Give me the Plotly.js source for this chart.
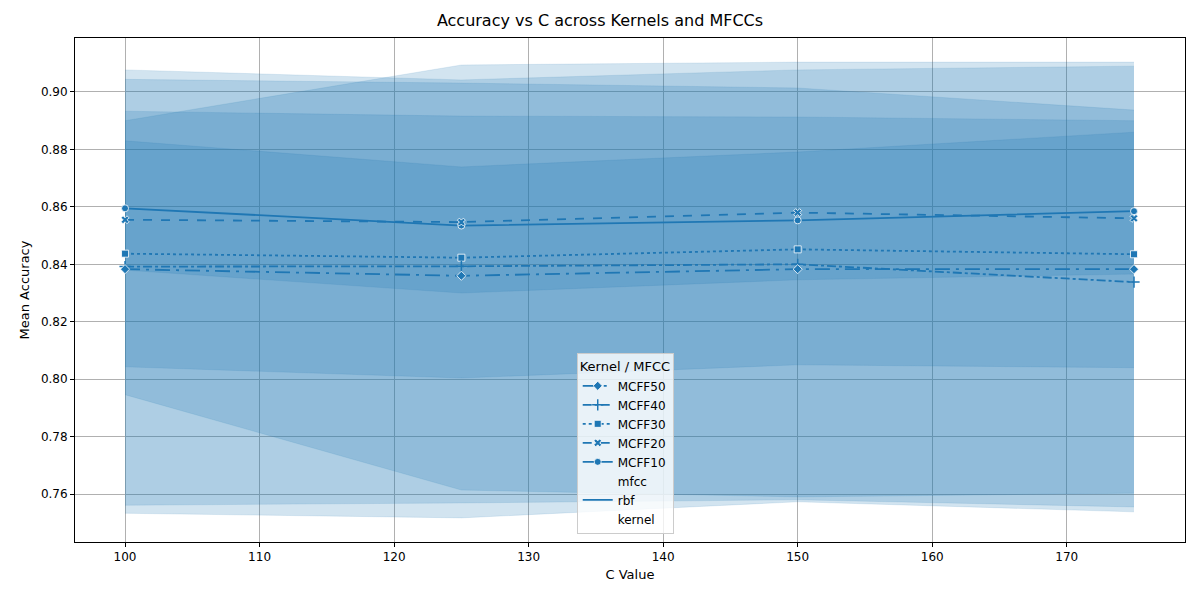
<!DOCTYPE html>
<html>
<head>
<script src="https://cdn.plot.ly/plotly-3.0.1.min.js"></script>
</head>
<body style="margin:0">
<div id="chart" style="width:1200px;height:600px"></div>
<script>
const cValues = [100, 125, 150, 175];
const mfccNames = ['MCFF10', 'MCFF20', 'MCFF30', 'MCFF40', 'MCFF50'];
const meanAcc = [
  [0.8595, 0.8535, 0.8553, 0.8585],
  [0.8555, 0.8547, 0.8580, 0.8560],
  [0.8437, 0.8423, 0.8452, 0.8435],
  [0.8392, 0.8393, 0.8400, 0.8338],
  [0.8383, 0.8360, 0.8383, 0.8383],
];
const upperCI = [
  [0.9077, 0.9042, 0.9077, 0.9090],
  [0.8900, 0.9094, 0.9104, 0.9104],
  [0.9044, 0.9031, 0.9014, 0.8937],
  [0.8933, 0.8916, 0.8913, 0.8900],
  [0.8830, 0.8739, 0.8791, 0.8860],
];
const lowerCI = [
  [0.7533, 0.7517, 0.7573, 0.7538],
  [0.7946, 0.7614, 0.7590, 0.7603],
  [0.7561, 0.7569, 0.7580, 0.7555],
  [0.8043, 0.8004, 0.8050, 0.8040],
  [0.8380, 0.8300, 0.8346, 0.8366],
];
const dashes = ['solid', 'dash', 'dot', 'dashdot', 'longdashdot'];
const symbols = ['circle', 'x', 'square', 'cross-thin', 'diamond'];

const blue = '#1f77b4';
const band = 'rgba(31,119,180,0.2)';
const traces = [];

// confidence bands
for (let i = 0; i < mfccNames.length; i++) {
  traces.push({
    x: cValues, y: upperCI[i], mode: 'lines', showlegend: false, hoverinfo: 'skip',
    line: { width: 0.6, color: band },
  });
  traces.push({
    x: cValues, y: lowerCI[i], mode: 'lines', showlegend: false, hoverinfo: 'skip',
    fill: 'tonexty', fillcolor: band, line: { width: 0.6, color: band },
  });
}

// legend headers
const header = (name) => ({ x: [null], y: [null], mode: 'lines', name: name, line: { width: 0, color: 'rgba(0,0,0,0)' } });
traces.push(header('kernel'));
traces.push({ x: [null], y: [null], mode: 'lines', name: 'rbf', line: { color: blue, width: 1.8 } });
traces.push(header('mfcc'));

// mean lines
for (let i = 0; i < mfccNames.length; i++) {
  traces.push({
    x: cValues, y: meanAcc[i], mode: 'lines+markers', name: mfccNames[i],
    line: { color: blue, width: 1.8, dash: dashes[i] },
    marker: {
      symbol: symbols[i], size: symbols[i] === 'cross-thin' ? 8 : 7, color: blue,
      line: { color: symbols[i] === 'cross-thin' ? blue : 'white', width: symbols[i] === 'cross-thin' ? 1.5 : 0.8 },
    },
  });
}

const axisBase = {
  showgrid: true, gridcolor: '#b0b0b0', gridwidth: 1,
  showline: true, linecolor: 'black', linewidth: 1, mirror: true,
  ticks: 'outside', ticklen: 4, tickcolor: 'black', zeroline: false,
  tickfont: { size: 12, color: 'black' },
};

const layout = {
  title: { text: 'Accuracy vs C across Kernels and MFCCs', font: { size: 16, color: 'black' }, x: 0.5, y: 0.975 },
  font: { family: 'DejaVu Sans, sans-serif', color: 'black' },
  xaxis: { ...axisBase, range: [96.28, 178.79], dtick: 10, title: { text: 'C Value', font: { size: 13 }, standoff: 6 } },
  yaxis: { ...axisBase, range: [0.7433, 0.9188], dtick: 0.02, tickformat: '.2f', title: { text: 'Mean Accuracy', font: { size: 13 }, standoff: 8 } },
  margin: { l: 75, r: 15, t: 38, b: 58 },
  showlegend: true,
  legend: {
    x: 0.452, y: 0.015, xanchor: 'left', yanchor: 'bottom',
    bgcolor: 'rgba(255,255,255,0.8)', bordercolor: '#cccccc', borderwidth: 1,
    title: { text: 'Kernel / MFCC', font: { size: 13 } },
    font: { size: 12 }, tracegroupgap: 0,
  },
  plot_bgcolor: 'white', paper_bgcolor: 'white',
};

Plotly.newPlot('chart', traces, layout, { displayModeBar: false });
</script>
</body>
</html>
